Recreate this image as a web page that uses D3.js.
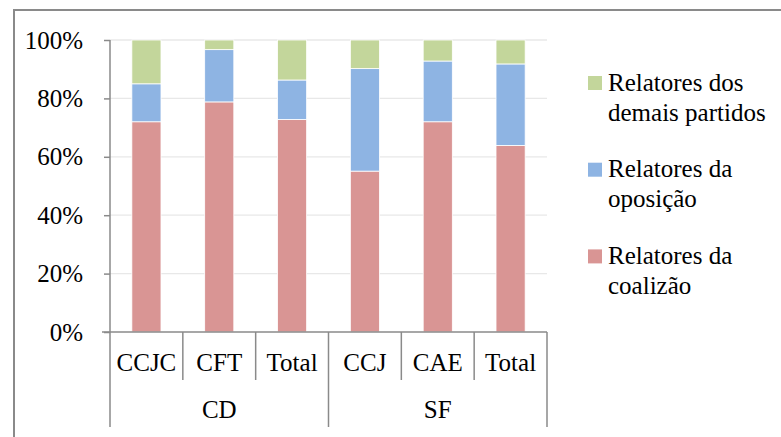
<!DOCTYPE html>
<html>
<head>
<meta charset="utf-8">
<script src="https://cdn.jsdelivr.net/npm/d3@7/dist/d3.min.js"></script>
<style>
  html, body { margin: 0; padding: 0; background: #fff; overflow: hidden; }
</style>
</head>
<body>
<svg id="chart" width="781" height="437"></svg>
<script>
const categories = ["CCJC", "CFT", "Total", "CCJ", "CAE", "Total"];
const groups = [
  { name: "CD", from: 0, to: 3 },
  { name: "SF", from: 3, to: 6 }
];
const coalizao = [72.0, 78.8, 72.8, 55.1, 72.0, 63.9];
const oposicao = [13.0, 17.9, 13.5, 35.1, 20.8, 27.9];
const demais = [15.0, 3.3, 13.7, 9.8, 7.2, 8.2];
const legendLines = [
  ["Relatores dos", "demais partidos"],
  ["Relatores da", "oposição"],
  ["Relatores da", "coalizão"]
];
const colors = ["#d99594", "#8eb4e3", "#c3d69b"];
const yTicks = [0, 20, 40, 60, 80, 100];

const svg = d3.select("#chart");
const plot = { left: 110, right: 547, top: 40, bottom: 332 };

// outer frame
svg.append("path")
  .attr("d", "M14,440 L14,10 L790,10")
  .attr("fill", "none").attr("stroke", "#8a8a8a").attr("stroke-width", 2);

const idx = categories.map((d, i) => i);
const x = d3.scaleBand().domain(idx).range([plot.left, plot.right]).paddingInner(0.6).paddingOuter(0.3);
const xSlot = d3.scaleBand().domain(idx).range([plot.left, plot.right]);
const y = d3.scaleLinear().domain([0, 100]).range([plot.bottom, plot.top]);

// gridlines
svg.append("g").selectAll("line").data(yTicks.filter(d => d > 0)).join("line")
  .attr("x1", plot.left).attr("x2", plot.right)
  .attr("y1", d => y(d)).attr("y2", d => y(d))
  .attr("stroke", "#e8e8e8").attr("stroke-width", 1.3);

// stacked bars
const table = idx.map(i => ({ i, s0: coalizao[i], s1: oposicao[i], s2: demais[i] }));
const stack = d3.stack().keys(["s0", "s1", "s2"])(table);
svg.append("g").selectAll("g").data(stack).join("g")
  .attr("fill", (d, k) => colors[k])
  .selectAll("rect").data(d => d).join("rect")
  .attr("x", d => x(d.data.i))
  .attr("width", x.bandwidth())
  .attr("y", d => y(d[1]))
  .attr("height", d => y(d[0]) - y(d[1]))
  .attr("stroke", "#ffffff").attr("stroke-width", 0.8);

// y axis (lines via d3.axisLeft, labels as text from the y scale)
const yAxis = d3.axisLeft(y).tickValues(yTicks).tickFormat("").tickSize(6);
const ya = svg.append("g").attr("transform", `translate(${plot.left},0)`).call(yAxis);
ya.select(".domain").attr("stroke", "#8a8a8a").attr("stroke-width", 1.5).attr("d", `M0,${plot.top}V${plot.bottom}`);
ya.selectAll(".tick line").attr("stroke", "#8a8a8a").attr("stroke-width", 1.5);
ya.selectAll(".tick text").remove();

svg.append("g").selectAll("text").data(yTicks).join("text")
  .attr("x", plot.left - 27)
  .attr("y", d => y(d) + 8.5)
  .attr("text-anchor", "end")
  .attr("font-family", "Times New Roman").attr("font-size", 25)
  .text(d => d + "%");

// x axis line
svg.append("line").attr("x1", plot.left - 8).attr("x2", plot.right)
  .attr("y1", plot.bottom).attr("y2", plot.bottom)
  .attr("stroke", "#8a8a8a").attr("stroke-width", 1.5);

// category separators
const bounds = idx.map(i => xSlot(i)).concat([plot.right]);
svg.append("g").selectAll("line").data(bounds).join("line")
  .attr("x1", d => d).attr("x2", d => d)
  .attr("y1", plot.bottom)
  .attr("y2", (d, k) => (k === 0 || k === 3 || k === 6) ? 427 : 380)
  .attr("stroke", "#8a8a8a").attr("stroke-width", 1.5);

// category labels
svg.append("g").selectAll("text").data(idx).join("text")
  .attr("x", i => xSlot(i) + xSlot.bandwidth() / 2)
  .attr("y", 371)
  .attr("text-anchor", "middle").attr("font-family", "Liberation Serif").attr("font-size", 25)
  .text(i => categories[i]);

// group labels
svg.append("g").selectAll("text").data(groups).join("text")
  .attr("x", g => (xSlot(g.from) + (g.to < categories.length ? xSlot(g.to) : plot.right)) / 2)
  .attr("y", 418)
  .attr("text-anchor", "middle").attr("font-family", "Liberation Serif").attr("font-size", 25)
  .text(g => g.name);

// legend
const legendColors = [colors[2], colors[1], colors[0]];
const legendTop = k => 76 + k * 86.7;
const lg = svg.append("g");
lg.selectAll("rect").data(legendLines).join("rect")
  .attr("x", 588).attr("y", (d, k) => legendTop(k))
  .attr("width", 14).attr("height", 14).attr("fill", (d, k) => legendColors[k]);
const lines = legendLines.flatMap((d, k) => d.map((t, j) => ({ t, k, j })));
lg.selectAll("text").data(lines).join("text")
  .attr("x", 608)
  .attr("y", d => legendTop(d.k) + 14.5 + d.j * 30)
  .attr("font-family", "Times New Roman").attr("font-size", 25)
  .text(d => d.t);
</script>
</body>
</html>
